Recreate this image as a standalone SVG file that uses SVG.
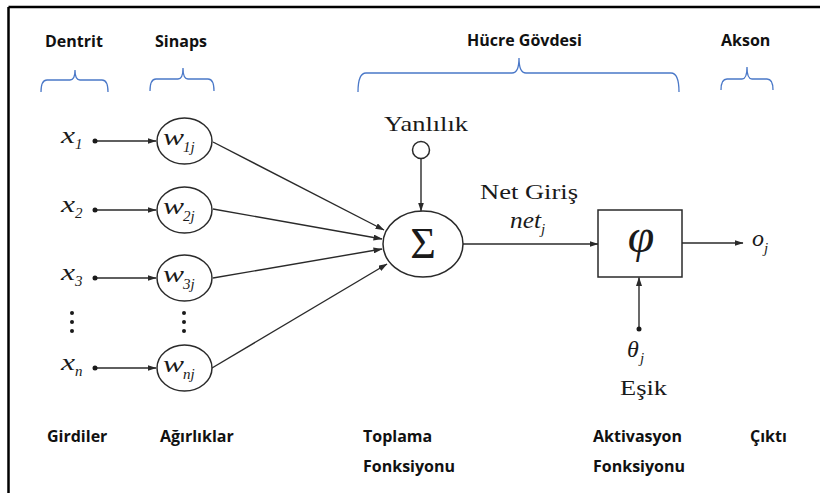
<svg xmlns="http://www.w3.org/2000/svg" width="820" height="493" viewBox="0 0 820 493">
  <style>
    .hdr { font-family: "Open Sans", "Liberation Sans", sans-serif; font-weight: 700; font-size: 16px; fill: #111; }
    .brace { fill: none; stroke: #4a78c8; stroke-width: 1.3; }
    .node { fill: #fff; stroke: #2a2a2a; stroke-width: 1.5; }
    .wire { fill: none; stroke: #2a2a2a; stroke-width: 1.4; }
    .math { font-family: "Liberation Serif", "Times New Roman", serif; font-style: italic; fill: #1a1a1a; }
    .word { font-family: "Liberation Serif", "Times New Roman", serif; fill: #1a1a1a; }
    .dot { fill: #1a1a1a; }
  </style>
  <defs>
    <marker id="arr" markerWidth="9" markerHeight="6" refX="8.5" refY="3" orient="auto" markerUnits="userSpaceOnUse">
      <path d="M0,0 L9,3 L0,6 z" fill="#2a2a2a"/>
    </marker>
  </defs>

  <rect width="820" height="493" fill="#fff"/>

  <!-- frame -->
  <g id="frame" stroke="#000" stroke-width="2.5" fill="none">
    <line x1="8.5" y1="7" x2="820" y2="7"/>
    <line x1="8.5" y1="7" x2="8.5" y2="493"/>
  </g>

  <!-- section headings and braces -->
  <g id="headings">
    <text class="hdr" x="45" y="47">Dentrit</text>
    <text class="hdr" x="155" y="47">Sinaps</text>
    <text class="hdr" x="467" y="46">Hücre Gövdesi</text>
    <text class="hdr" x="721" y="46">Akson</text>
    <path class="brace" d="M41,92 Q41,80 47,80 L70,80 Q75,80 75,70 Q75,80 80,80 L102,80 Q108,80 108,92"/>
    <path class="brace" d="M150,91 Q150,79 156,79 L178,79 Q183,79 183,68 Q183,79 188,79 L208,79 Q214,79 214,91"/>
    <path class="brace" d="M358,92 Q358,73 366,73 L512,73 Q519,73 519,58 Q519,73 526,73 L671,73 Q679,73 679,92"/>
    <path class="brace" d="M721,90 Q721,79 727,79 L742,79 Q747,79 747,67 Q747,79 752,79 L767,79 Q773,79 773,90"/>
  </g>

  <!-- bottom captions -->
  <g id="captions">
    <text class="hdr" x="47" y="442">Girdiler</text>
    <text class="hdr" x="160" y="442">Ağırlıklar</text>
    <text class="hdr" x="363" y="442">Toplama</text>
    <text class="hdr" x="363" y="472">Fonksiyonu</text>
    <text class="hdr" x="593" y="442">Aktivasyon</text>
    <text class="hdr" x="593" y="472">Fonksiyonu</text>
    <text class="hdr" x="750" y="442">Çıktı</text>
  </g>

  <!-- connectors -->
  <g id="connectors" class="wire">
    <line x1="95" y1="141" x2="156" y2="141" marker-end="url(#arr)"/>
    <line x1="95" y1="210" x2="156" y2="210" marker-end="url(#arr)"/>
    <line x1="95" y1="278" x2="156" y2="278" marker-end="url(#arr)"/>
    <line x1="95" y1="368" x2="156" y2="368" marker-end="url(#arr)"/>
    <line x1="213" y1="142" x2="384" y2="230" marker-end="url(#arr)"/>
    <line x1="213" y1="209" x2="382" y2="239" marker-end="url(#arr)"/>
    <line x1="213" y1="278" x2="382" y2="249" marker-end="url(#arr)"/>
    <line x1="212" y1="368" x2="387" y2="264" marker-end="url(#arr)"/>
    <line x1="421" y1="158.5" x2="421" y2="211" marker-end="url(#arr)"/>
    <line x1="463" y1="244" x2="598" y2="244" marker-end="url(#arr)"/>
    <line x1="682" y1="243" x2="743" y2="243" marker-end="url(#arr)"/>
    <line x1="639" y1="329" x2="639" y2="277.5" marker-end="url(#arr)"/>
  </g>

  <!-- inputs -->
  <g id="input-1">
    <text class="math" x="61" y="143" font-size="24" textLength="14" lengthAdjust="spacingAndGlyphs">x</text>
    <text class="math" x="75" y="149" font-size="15">1</text>
    <circle class="dot" cx="95" cy="141" r="2.5"/>
  </g>
  <g id="input-2">
    <text class="math" x="61" y="212" font-size="24" textLength="14" lengthAdjust="spacingAndGlyphs">x</text>
    <text class="math" x="75" y="218" font-size="15">2</text>
    <circle class="dot" cx="95" cy="210" r="2.5"/>
  </g>
  <g id="input-3">
    <text class="math" x="61" y="280" font-size="24" textLength="14" lengthAdjust="spacingAndGlyphs">x</text>
    <text class="math" x="75" y="286" font-size="15">3</text>
    <circle class="dot" cx="95" cy="278" r="2.5"/>
  </g>
  <g id="input-ellipsis">
    <circle class="dot" cx="72" cy="313" r="2"/>
    <circle class="dot" cx="72" cy="322" r="2"/>
    <circle class="dot" cx="72" cy="331" r="2"/>
  </g>
  <g id="input-n">
    <text class="math" x="61" y="370" font-size="24" textLength="14" lengthAdjust="spacingAndGlyphs">x</text>
    <text class="math" x="75" y="376" font-size="15">n</text>
    <circle class="dot" cx="95" cy="368" r="2.5"/>
  </g>

  <!-- weights -->
  <g id="weight-1">
    <ellipse class="node" cx="184.5" cy="141" rx="27.5" ry="23"/>
    <text class="math" x="163" y="145" font-size="24" textLength="21" lengthAdjust="spacingAndGlyphs">w</text>
    <text class="math" x="183" y="152" font-size="15">1j</text>
  </g>
  <g id="weight-2">
    <ellipse class="node" cx="184.5" cy="210" rx="27.5" ry="23"/>
    <text class="math" x="163" y="214" font-size="24" textLength="21" lengthAdjust="spacingAndGlyphs">w</text>
    <text class="math" x="183" y="221" font-size="15">2j</text>
  </g>
  <g id="weight-3">
    <ellipse class="node" cx="184.5" cy="278" rx="27.5" ry="23"/>
    <text class="math" x="163" y="282" font-size="24" textLength="21" lengthAdjust="spacingAndGlyphs">w</text>
    <text class="math" x="183" y="289" font-size="15">3j</text>
  </g>
  <g id="weight-ellipsis">
    <circle class="dot" cx="184" cy="313" r="2"/>
    <circle class="dot" cx="184" cy="322" r="2"/>
    <circle class="dot" cx="184" cy="331" r="2"/>
  </g>
  <g id="weight-n">
    <ellipse class="node" cx="184.5" cy="368" rx="27.5" ry="23"/>
    <text class="math" x="163" y="372" font-size="24" textLength="21" lengthAdjust="spacingAndGlyphs">w</text>
    <text class="math" x="183" y="379" font-size="15">nj</text>
  </g>

  <!-- bias -->
  <g id="bias">
    <text class="word" x="384" y="131" font-size="21" textLength="84" lengthAdjust="spacingAndGlyphs">Yanlılık</text>
    <circle class="node" cx="421" cy="150" r="8.5"/>
  </g>

  <!-- summation -->
  <g id="sum">
    <ellipse class="node" cx="423" cy="244" rx="40" ry="33"/>
    <text class="word" x="423" y="258" font-size="44" text-anchor="middle">Σ</text>
  </g>

  <!-- net input label -->
  <g id="net-input">
    <text class="word" x="480" y="199" font-size="21" textLength="98" lengthAdjust="spacingAndGlyphs">Net Giriş</text>
    <text class="math" x="510" y="228" font-size="23" textLength="31" lengthAdjust="spacingAndGlyphs">net</text>
    <text class="math" x="541" y="234" font-size="15">j</text>
  </g>

  <!-- activation -->
  <g id="activation">
    <rect class="node" x="598" y="210" width="84" height="67"/>
    <text class="math" x="641" y="252" font-size="48" text-anchor="middle">φ</text>
  </g>

  <!-- threshold -->
  <g id="threshold">
    <circle class="dot" cx="639" cy="329" r="2.5"/>
    <text class="math" x="627" y="357" font-size="24">θ</text>
    <text class="math" x="640" y="363" font-size="15">j</text>
    <text class="word" x="620" y="395" font-size="20" textLength="47" lengthAdjust="spacingAndGlyphs">Eşik</text>
  </g>

  <!-- output -->
  <g id="output">
    <text class="math" x="752" y="246" font-size="24">o</text>
    <text class="math" x="764" y="253" font-size="15">j</text>
  </g>
</svg>
